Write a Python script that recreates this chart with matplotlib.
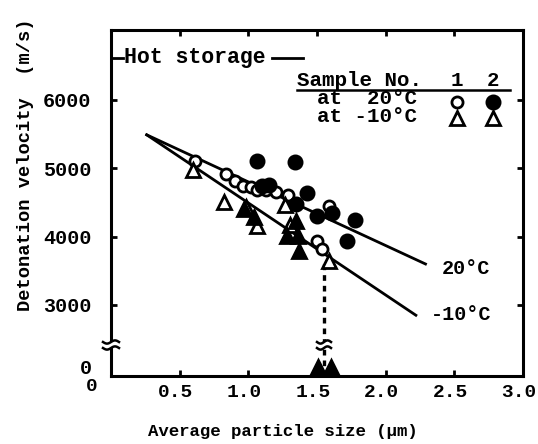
import matplotlib
matplotlib.use("Agg")
import matplotlib.pyplot as plt
import numpy as np
from matplotlib.lines import Line2D
from matplotlib.patches import Rectangle
from matplotlib.transforms import ScaledTranslation

W, H = 538, 444
FONT = 'Liberation Mono'
plt.rcParams['font.family'] = [FONT, 'DejaVu Sans Mono']
plt.rcParams['font.weight'] = 'bold'

# ---------------- data ----------------
# Sample 1 at 20 C (open circles)
s1_20_x = [0.61, 0.84, 0.90, 0.96, 1.02, 1.06, 1.13, 1.20, 1.29, 1.50, 1.54, 1.59]
s1_20_y = [5100, 4920, 4820, 4740, 4720, 4690, 4680, 4650, 4610, 3930, 3820, 4450]
# Sample 2 at 20 C (filled circles)
s2_20_x = [1.06, 1.34, 1.10, 1.15, 1.43, 1.35, 1.50, 1.61, 1.78, 1.72]
s2_20_y = [5100, 5090, 4740, 4750, 4640, 4480, 4300, 4340, 4250, 3930]
# Sample 1 at -10 C (open triangles)
s1_m10_x = [0.60, 0.82, 0.98, 1.06, 1.27, 1.30, 1.59]
s1_m10_y = [4980, 4510, 4440, 4160, 4470, 4170, 3650]
# Sample 2 at -10 C (filled triangles); 0 = failed detonation
s2_m10_x = [0.97, 1.04, 1.28, 1.36, 1.35, 1.37, 1.51, 1.60]
s2_m10_y = [4400, 4290, 4010, 4010, 4230, 3790, 0, 0]
# regression lines (end points)
fit20_x = [0.26, 2.29]
fit20_y = [5490, 3600]
fitm10_x = [0.26, 2.22]
fitm10_y = [5490, 2850]
# drop of the last sample to zero velocity
drop_x = [1.55, 1.55]
drop_y = [3600, 0]

x_ticks = [0.5, 1.0, 1.5, 2.0, 2.5, 3.0]
x_labels = ['0.5', '1.0', '1.5', '2.0', '2.5', '3.0']
y_ticks = [0, 3000, 4000, 5000, 6000]
y_labels = ['0', '3000', '4000', '5000', '6000']

# broken axis: values below the break are shifted up
ZERO_AT = 2100
def yplot(v):
    v = np.asarray(v, dtype=float)
    return np.where(v >= 2500, v, ZERO_AT + v)

def fx(px):
    return px / W
def fy(py):
    return 1 - py / H

fig = plt.figure(figsize=(W / 100, H / 100), dpi=100)
L, R, T, B = 111, 523, 30, 376
ax = fig.add_axes([fx(L), fy(B), (R - L) / W, (B - T) / H])
ax.set_xlim(0, 3.0)
ax.set_ylim(1961, 7024)

lw_axis = 2.2
for s in ax.spines.values():
    s.set_linewidth(lw_axis)

ax.set_xticks(x_ticks)
ax.set_xticklabels(x_labels)
ax.set_yticks(yplot(y_ticks))
ax.set_yticklabels(y_labels)
ax.tick_params(direction='in', length=4.5, width=2, top=True, right=True)
ax.tick_params(axis='x', pad=6, labelsize=14)
ax.tick_params(axis='y', pad=14, labelsize=14.5)
t0 = ax.yaxis.get_major_ticks()[0]
t0.tick1line.set_visible(False)
t0.tick2line.set_visible(False)
for lab in ax.get_xticklabels() + ax.get_yticklabels():
    lab.set_fontweight('bold')
# x tick labels sit slightly left of their ticks in the reference
for lab in ax.get_xticklabels():
    lab.set_transform(lab.get_transform() + ScaledTranslation(-4 / 100, 0, fig.dpi_scale_trans))

# regression lines
ax.plot(fit20_x, yplot(fit20_y), color='black', lw=2.0, zorder=2)
ax.plot(fitm10_x, yplot(fitm10_y), color='black', lw=2.0, zorder=2)
# dotted drop
ax.plot(drop_x, yplot(drop_y), color='black', lw=2.4, ls=(0, (1.7, 1.5)), zorder=2)

mkw = dict(ls='none', markeredgecolor='black', markeredgewidth=2.0, zorder=4)
ax.plot(s1_20_x, yplot(s1_20_y), marker='o', ms=8.0, markerfacecolor='white', **mkw)
ax.plot(s2_20_x, yplot(s2_20_y), marker='o', ms=9.5, markerfacecolor='black', **mkw)
ax.plot(s1_m10_x, yplot(s1_m10_y), marker='^', ms=10, markerfacecolor='white', **mkw)
ax.plot(s2_m10_x, yplot(s2_m10_y), marker='^', ms=10, markerfacecolor='black', **mkw)

# break symbols
def brk(cx, cy, half_w, gap):
    fig.add_artist(Rectangle((fx(cx - half_w), fy(cy + gap / 2)), 2 * half_w / W, gap / H,
                             transform=fig.transFigure, facecolor='white',
                             edgecolor='none', zorder=10))
    xs = np.linspace(cx - half_w, cx + half_w, 30)
    for off in (-gap / 2, gap / 2):
        ys = cy + off - 1.6 * np.sin((xs - cx) / half_w * np.pi)
        fig.add_artist(Line2D(fx(xs), fy(ys), transform=fig.transFigure,
                              color='black', lw=1.8, zorder=11))

brk(L, 345, 8, 6)
brk(324, 345, 7, 6)

# x-axis origin label
fig.text(fx(92), fy(386), '0', fontsize=14, fontweight='bold', ha='center', va='center')

# axis labels
fig.text(fx(283), fy(431), 'Average particle size (\u00b5m)', fontsize=12.5,
         fontweight='bold', ha='center', va='center')
fig.text(fx(26), fy(165), 'Detonation velocity  (m/s)', fontsize=13.5,
         fontweight='bold', ha='center', va='center', rotation=90)

# Hot storage header
hf = dict(fontsize=15.5, fontweight='bold', va='center')
fig.add_artist(Line2D([fx(113), fx(123)], [fy(58), fy(58)], transform=fig.transFigure,
                      color='black', lw=2))
fig.text(fx(124), fy(58), 'Hot storage', ha='left', **hf)
fig.add_artist(Line2D([fx(272), fx(303)], [fy(58), fy(58)], transform=fig.transFigure,
                      color='black', lw=2))

# legend table
tf = dict(fontsize=15, fontweight='bold', va='center')
fig.text(fx(297), fy(80), 'Sample No.', ha='left', **tf)
fig.text(fx(457), fy(80), '1', ha='center', **tf)
fig.text(fx(493), fy(80), '2', ha='center', **tf)
fig.add_artist(Line2D([fx(297), fx(510)], [fy(90), fy(90)], transform=fig.transFigure,
                      color='black', lw=1.8))
fig.text(fx(317), fy(98), 'at  20\u00b0C', ha='left', **tf)
fig.text(fx(317), fy(116), 'at -10\u00b0C', ha='left', **tf)
legmk = dict(transform=fig.transFigure, ls='none', markeredgecolor='black',
             markeredgewidth=2.0)
fig.add_artist(Line2D([fx(457)], [fy(102)], marker='o', ms=8, markerfacecolor='white', **legmk))
fig.add_artist(Line2D([fx(493)], [fy(102)], marker='o', ms=9.5, markerfacecolor='black', **legmk))
fig.add_artist(Line2D([fx(457)], [fy(118)], marker='^', ms=9.5, markerfacecolor='white', **legmk))
fig.add_artist(Line2D([fx(493)], [fy(118)], marker='^', ms=9.5, markerfacecolor='white', **legmk))

# line labels
lf = dict(fontsize=14.5, fontweight='bold', va='center')
fig.text(fx(466), fy(268), '20\u00b0C', ha='center', **lf)
fig.text(fx(461), fy(315), '-10\u00b0C', ha='center', **lf)

fig.savefig('out.png', dpi=100)
